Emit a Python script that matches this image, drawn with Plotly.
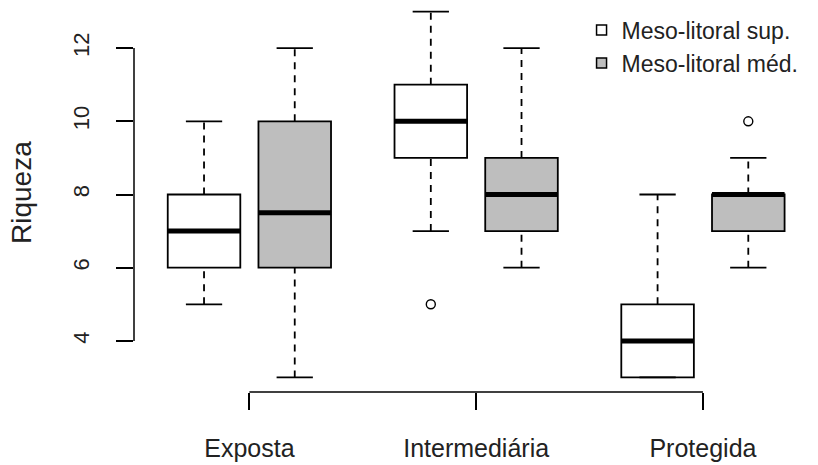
import plotly.graph_objects as go

# ---------------- data ----------------
groups = ["Exposta", "Intermediária", "Protegida"]
series_names = ["Meso-litoral sup.", "Meso-litoral méd."]

sup_min = [5, 7, 3]
sup_q1 = [6, 9, 3]
sup_med = [7, 10, 4]
sup_q3 = [8, 11, 5]
sup_max = [10, 13, 8]
sup_out = [[], [5], []]

med_min = [3, 6, 6]
med_q1 = [6, 7, 7]
med_med = [7.5, 8, 8]
med_q3 = [10, 9, 8]
med_max = [12, 12, 9]
med_out = [[], [], [10]]

y_ticks = [4, 6, 8, 10, 12]

# ---------------- styling ----------------
FONT = "Liberation Sans, Arial, sans-serif"
TXT = "#222222"
fills = ["#ffffff", "#bebebe"]
BOXW = 0.8
LW = 1.8

series = [
    (sup_min, sup_q1, sup_med, sup_q3, sup_max, sup_out),
    (med_min, med_q1, med_med, med_q3, med_max, med_out),
]

fig = go.Figure()

centers = [1.5 + 2.5 * g for g in range(len(groups))]
offsets = [-0.5, 0.5]

for s, (mn, q1, md, q3, mx, outs) in enumerate(series):
    for g in range(len(groups)):
        x = centers[g] + offsets[s]
        # box body
        fig.add_trace(go.Box(
            x=[x], q1=[q1[g]], median=[md[g]], q3=[q3[g]],
            lowerfence=[q1[g]], upperfence=[q3[g]],
            width=BOXW, fillcolor=fills[s],
            line=dict(color="black", width=LW),
            boxpoints=False, showlegend=False, hoverinfo="skip",
        ))
        # dashed whiskers
        for a, b in ((mn[g], q1[g]), (q3[g], mx[g])):
            if a != b:
                fig.add_trace(go.Scatter(
                    x=[x, x], y=[a, b], mode="lines",
                    line=dict(color="black", width=LW, dash="7px,6px"),
                    showlegend=False, hoverinfo="skip",
                ))
        # staples
        for v in (mn[g], mx[g]):
            fig.add_trace(go.Scatter(
                x=[x - BOXW / 4, x + BOXW / 4], y=[v, v], mode="lines",
                line=dict(color="black", width=LW),
                showlegend=False, hoverinfo="skip",
            ))
        # thick median
        fig.add_trace(go.Scatter(
            x=[x - BOXW / 2, x + BOXW / 2], y=[md[g], md[g]], mode="lines",
            line=dict(color="black", width=5),
            showlegend=False, hoverinfo="skip",
        ))
        # outliers
        if outs[g]:
            fig.add_trace(go.Scatter(
                x=[x] * len(outs[g]), y=outs[g], mode="markers",
                marker=dict(symbol="circle-open", size=9,
                            line=dict(color="black", width=1.4), color="black"),
                showlegend=False, hoverinfo="skip",
            ))

# legend entries
for s, name in enumerate(series_names):
    fig.add_trace(go.Scatter(
        x=[None], y=[None], mode="markers", name=name,
        marker=dict(symbol="square", size=10, color=fills[s],
                    line=dict(color="black", width=1.5)),
    ))

fig.update_layout(
    width=818, height=465,
    margin=dict(l=134, r=18, t=0, b=73),
    paper_bgcolor="white", plot_bgcolor="white",
    font=dict(family=FONT, color=TXT),
    showlegend=True,
    legend=dict(x=0.672, y=0.978, xanchor="left", yanchor="top",
                font=dict(size=23, color=TXT, family=FONT),
                bgcolor="rgba(0,0,0,0)", tracegroupgap=0,
                itemwidth=30),
    xaxis=dict(range=[0.228, 7.57], tickvals=centers, ticktext=groups,
               ticks="outside", ticklen=17, tickwidth=1.5, tickcolor="black",
               showgrid=False, zeroline=False, showline=False,
               tickfont=dict(size=25, color=TXT), ticklabelstandoff=17),
    yaxis=dict(range=[2.603, 13.315], tickvals=y_ticks,
               ticks="outside", ticklen=17, tickwidth=1.5, tickcolor="black",
               showgrid=False, zeroline=False, showline=False,
               tickangle=-90, tickfont=dict(size=22, color=TXT),
               ticklabelstandoff=18),
    shapes=[
        dict(type="line", xref="paper", yref="y", x0=0, x1=0,
             y0=y_ticks[0], y1=y_ticks[-1], line=dict(color="black", width=1.5)),
        dict(type="line", xref="x", yref="paper", x0=centers[0], x1=centers[-1],
             y0=0, y1=0, line=dict(color="black", width=1.5)),
    ],
    annotations=[
        dict(text="Riqueza", xref="paper", yref="paper", x=0, y=1 - 193 / 392,
             xanchor="center", yanchor="middle", xshift=-113, textangle=-90,
             showarrow=False, font=dict(size=28, color=TXT, family=FONT)),
    ],
)

fig.write_html("out.html", config={"displayModeBar": False},
               post_script="document.body.style.margin='0';")
